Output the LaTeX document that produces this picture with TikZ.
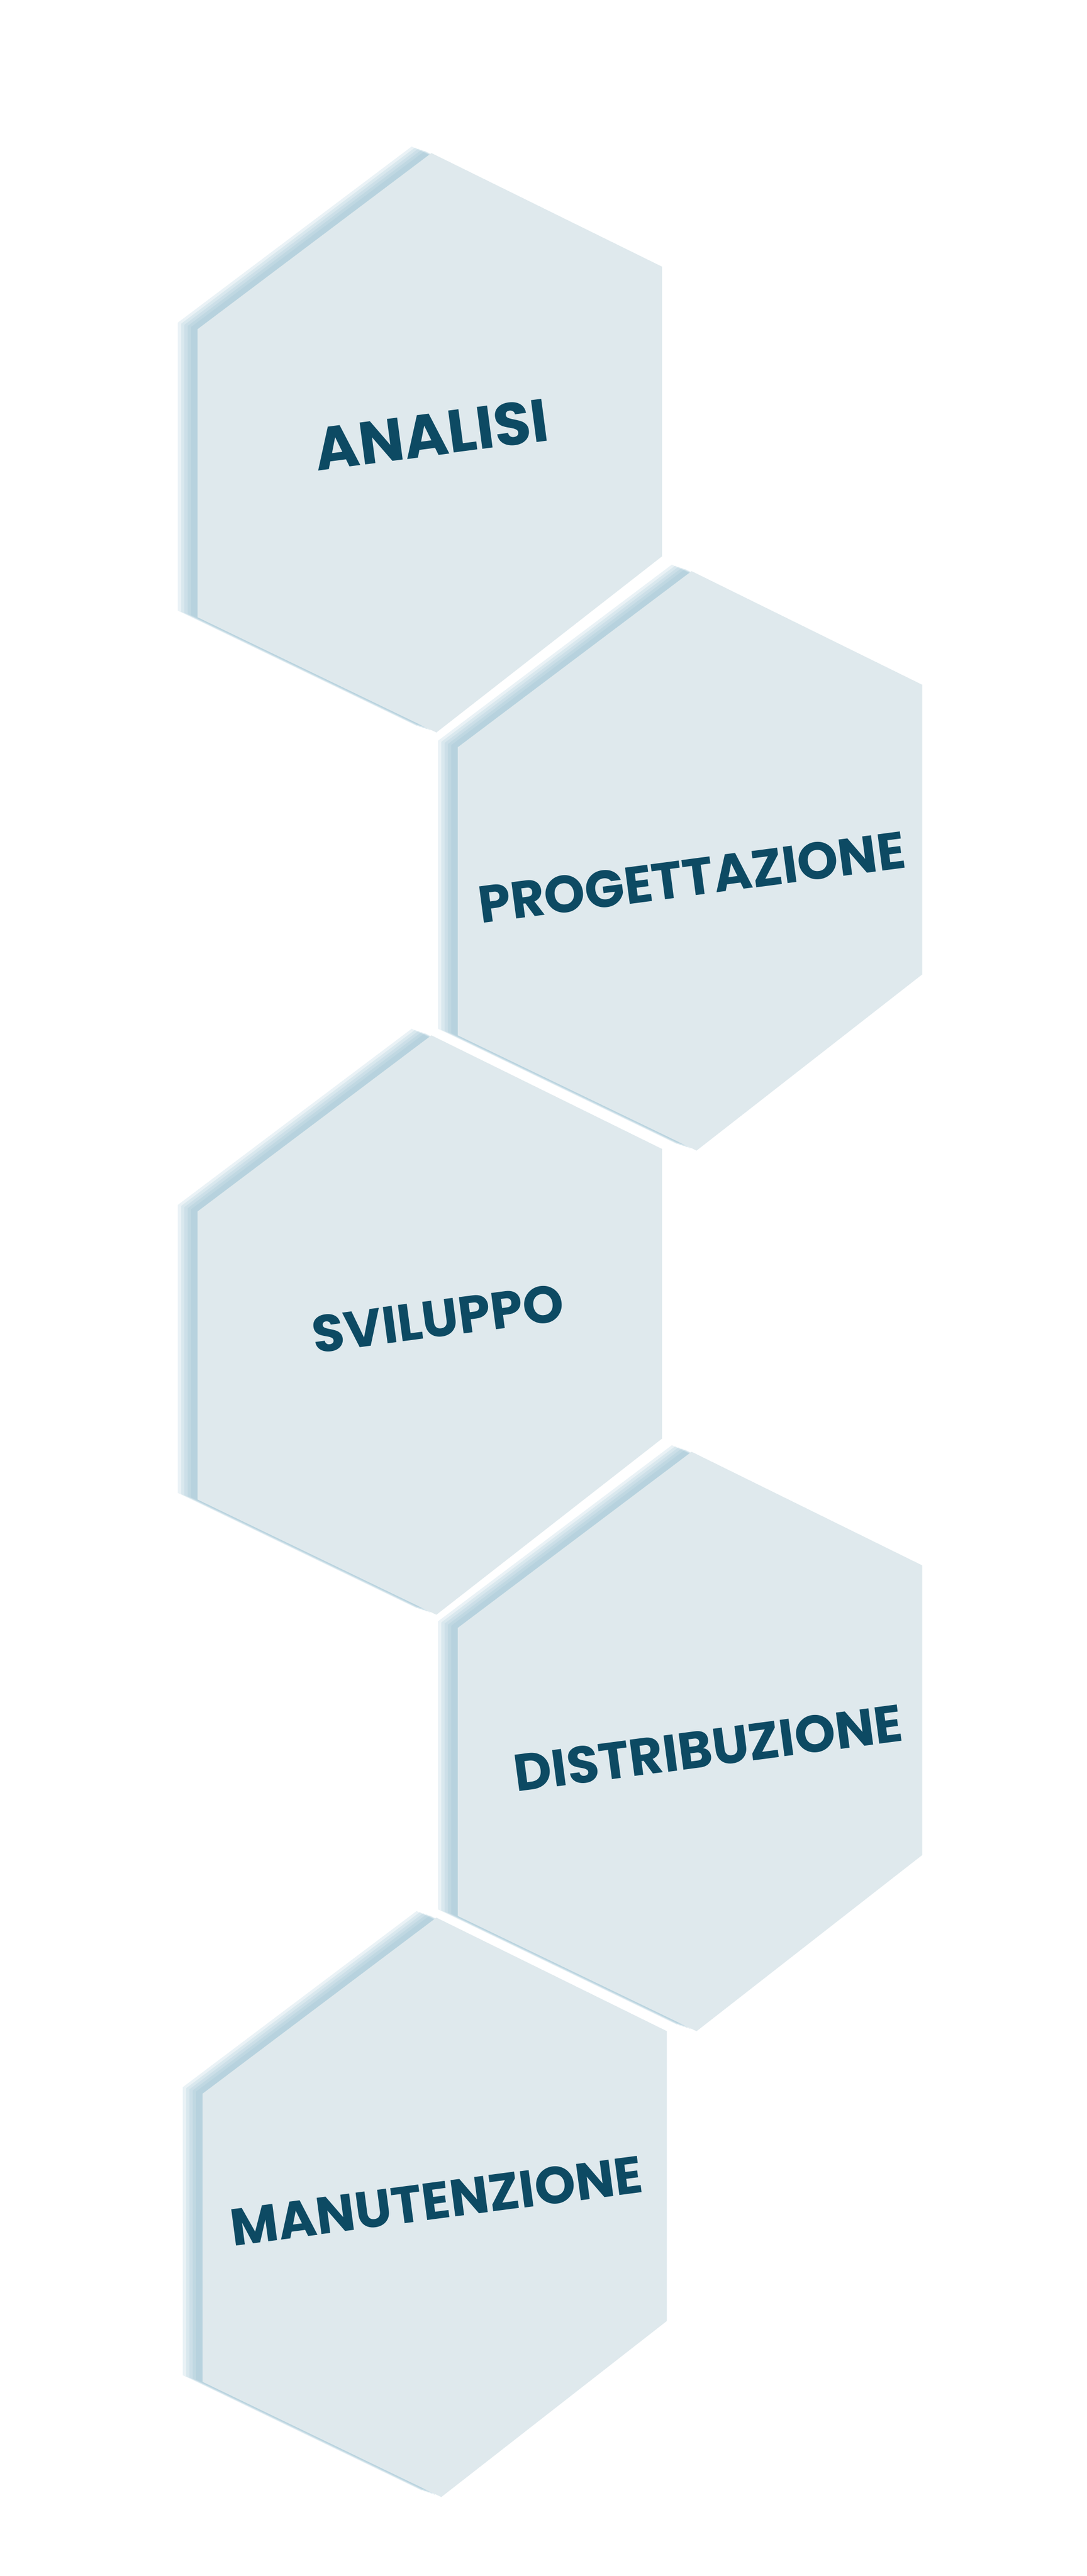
\documentclass[tikz,border=0pt]{standalone}
\usepackage{fontspec}
\setmainfont{Poppins}
\usetikzlibrary{calc}
\definecolor{hexfill}{HTML}{DFE9ED}
\definecolor{hexshade}{HTML}{8DB8CB}
\definecolor{hextext}{HTML}{0D4A63}
\tikzset{
  hexlabel/.style={text=hextext, font=\fontsize{90}{92}\selectfont\bfseries, rotate=7.5, inner sep=0pt},
}
% one hexagon, #1 = top corner
\newcommand\hexpath[1]{(#1) -- ++(140,69) -- ++(0,176) -- ++(-137,107) -- ++(-145,-70) -- ++(0,-175) -- cycle}
\begin{document}
\begin{tikzpicture}[x=0.1cm,y=-0.1cm]
\useasboundingbox (0,0) rectangle (660,1565);
% hexagons, top corners
\foreach \tx/\ty in {262/93, 420/347, 262/629, 420/882, 265/1165}{
  \coordinate (top) at (\tx,\ty);
  \foreach \d in {12,10,8,6,4}{
    \fill[hexshade, opacity=.18] \hexpath{$(top)+(-\d,-\d/3)$};
  }
  \fill[hexfill] \hexpath{top};
}
\node[hexlabel, font=\fontsize{104}{104}\selectfont\bfseries] (analisi) at (262,264) {ANALISI};
\node[hexlabel] (progettazione) at (420,533) {PROGETTAZIONE};
\node[hexlabel] (sviluppo) at (266,801) {SVILUPPO};
\node[hexlabel] (distribuzione) at (430,1062) {DISTRIBUZIONE};
\node[hexlabel] (manutenzione) at (265,1337) {MANUTENZIONE};
\end{tikzpicture}
\end{document}
